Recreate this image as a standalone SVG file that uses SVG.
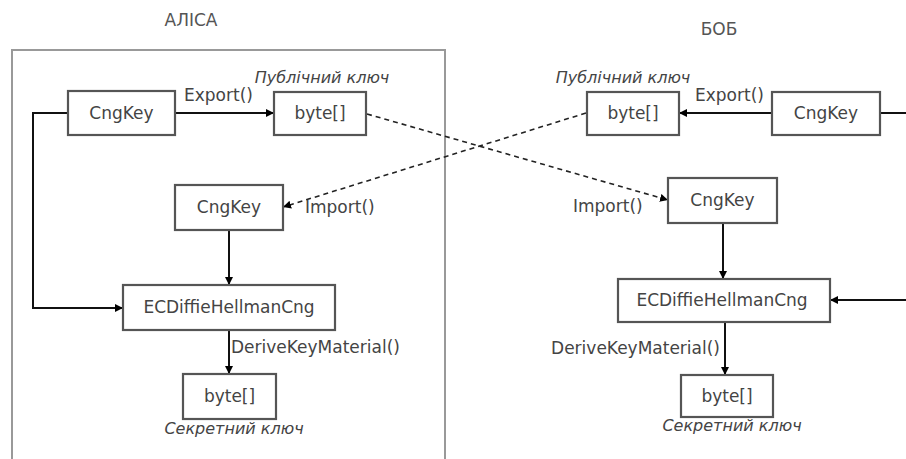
<svg xmlns="http://www.w3.org/2000/svg" width="906" height="459" viewBox="0 0 906 459">
<style>
  .box{fill:#fff;stroke:#555;stroke-width:2.2}
  .t{font-family:"DejaVu Sans",sans-serif;font-size:17px;fill:#444}
  .c{text-anchor:middle}
  .it{font-family:"DejaVu Sans",sans-serif;font-size:16px;font-style:italic;fill:#444;text-anchor:middle}
  .title{font-family:"DejaVu Sans",sans-serif;font-size:17px;fill:#555;text-anchor:middle}
  .ln{fill:none;stroke:#111;stroke-width:2}
  .dash{fill:none;stroke:#222;stroke-width:1.6;stroke-dasharray:5 4}
</style>
<defs>
  <marker id="ah" viewBox="0 0 10 10" refX="10" refY="5" markerWidth="8" markerHeight="8" markerUnits="userSpaceOnUse" orient="auto">
    <path d="M0,0 L10,5 L0,10 Z" fill="#000"/>
  </marker>
</defs>
<rect width="906" height="459" fill="#fff"/>
<g id="alice-frame">
  <rect x="12" y="50" width="433" height="430" fill="none" stroke="#999" stroke-width="2"/>
  <text class="title" x="191" y="26">АЛІСА</text>
</g>
<g id="bob-title">
  <text class="title" x="719" y="35">БОБ</text>
</g>
<g id="connectors">
  <path class="ln" d="M68,113 H33 V308 H123" marker-end="url(#ah)"/>
  <path class="ln" d="M175,113 H274" marker-end="url(#ah)"/>
  <path class="ln" d="M229,230 V285" marker-end="url(#ah)"/>
  <path class="ln" d="M229,330 V374" marker-end="url(#ah)"/>
  <path class="dash" d="M367,114 L668,200" marker-end="url(#ah)"/>
  <path class="dash" d="M586,113 L283,207" marker-end="url(#ah)"/>
  <path class="ln" d="M772,113 H679" marker-end="url(#ah)"/>
  <path class="ln" d="M880,113 H906" stroke="#555"/>
  <path class="ln" d="M723,223 V279" marker-end="url(#ah)"/>
  <path class="ln" d="M725,322 V375" marker-end="url(#ah)"/>
  <path class="ln" d="M906,300 H830" marker-end="url(#ah)"/>
  <text class="t" x="184" y="101">Export()</text>
  <text class="t" x="695" y="101">Export()</text>
  <text class="t" x="305" y="213">Import()</text>
  <text class="t" x="573" y="212">Import()</text>
  <text class="t" x="231" y="353">DeriveKeyMaterial()</text>
  <text class="t" x="720" y="354" text-anchor="end">DeriveKeyMaterial()</text>
</g>
<g id="alice-cngkey">
  <rect class="box" x="68" y="91" width="107" height="44"/>
  <text class="t c" x="121.5" y="119">CngKey</text>
</g>
<g id="alice-pubkey">
  <rect class="box" x="274" y="92" width="92" height="43"/>
  <text class="t c" x="320" y="119">byte[]</text>
  <text class="it" x="322" y="83">Публічний ключ</text>
</g>
<g id="alice-imported">
  <rect class="box" x="175" y="185" width="108" height="45"/>
  <text class="t c" x="229" y="213">CngKey</text>
</g>
<g id="alice-ecdh">
  <rect class="box" x="123" y="285" width="212" height="45"/>
  <text class="t c" x="229" y="313">ECDiffieHellmanCng</text>
</g>
<g id="alice-secret">
  <rect class="box" x="183" y="374" width="93" height="45"/>
  <text class="t c" x="229.5" y="402">byte[]</text>
  <text class="it" x="234" y="434">Секретний ключ</text>
</g>
<g id="bob-pubkey">
  <rect class="box" x="587" y="92" width="92" height="43"/>
  <text class="t c" x="633" y="119">byte[]</text>
  <text class="it" x="623" y="83">Публічний ключ</text>
</g>
<g id="bob-cngkey">
  <rect class="box" x="772" y="92" width="108" height="43"/>
  <text class="t c" x="826" y="119">CngKey</text>
</g>
<g id="bob-imported">
  <rect class="box" x="668" y="178" width="109" height="45"/>
  <text class="t c" x="722.5" y="206">CngKey</text>
</g>
<g id="bob-ecdh">
  <rect class="box" x="618" y="279" width="212" height="43"/>
  <text class="t c" x="722" y="306">ECDiffieHellmanCng</text>
</g>
<g id="bob-secret">
  <rect class="box" x="681" y="375" width="92" height="42"/>
  <text class="t c" x="727" y="402">byte[]</text>
  <text class="it" x="732" y="431">Секретний ключ</text>
</g>
</svg>
